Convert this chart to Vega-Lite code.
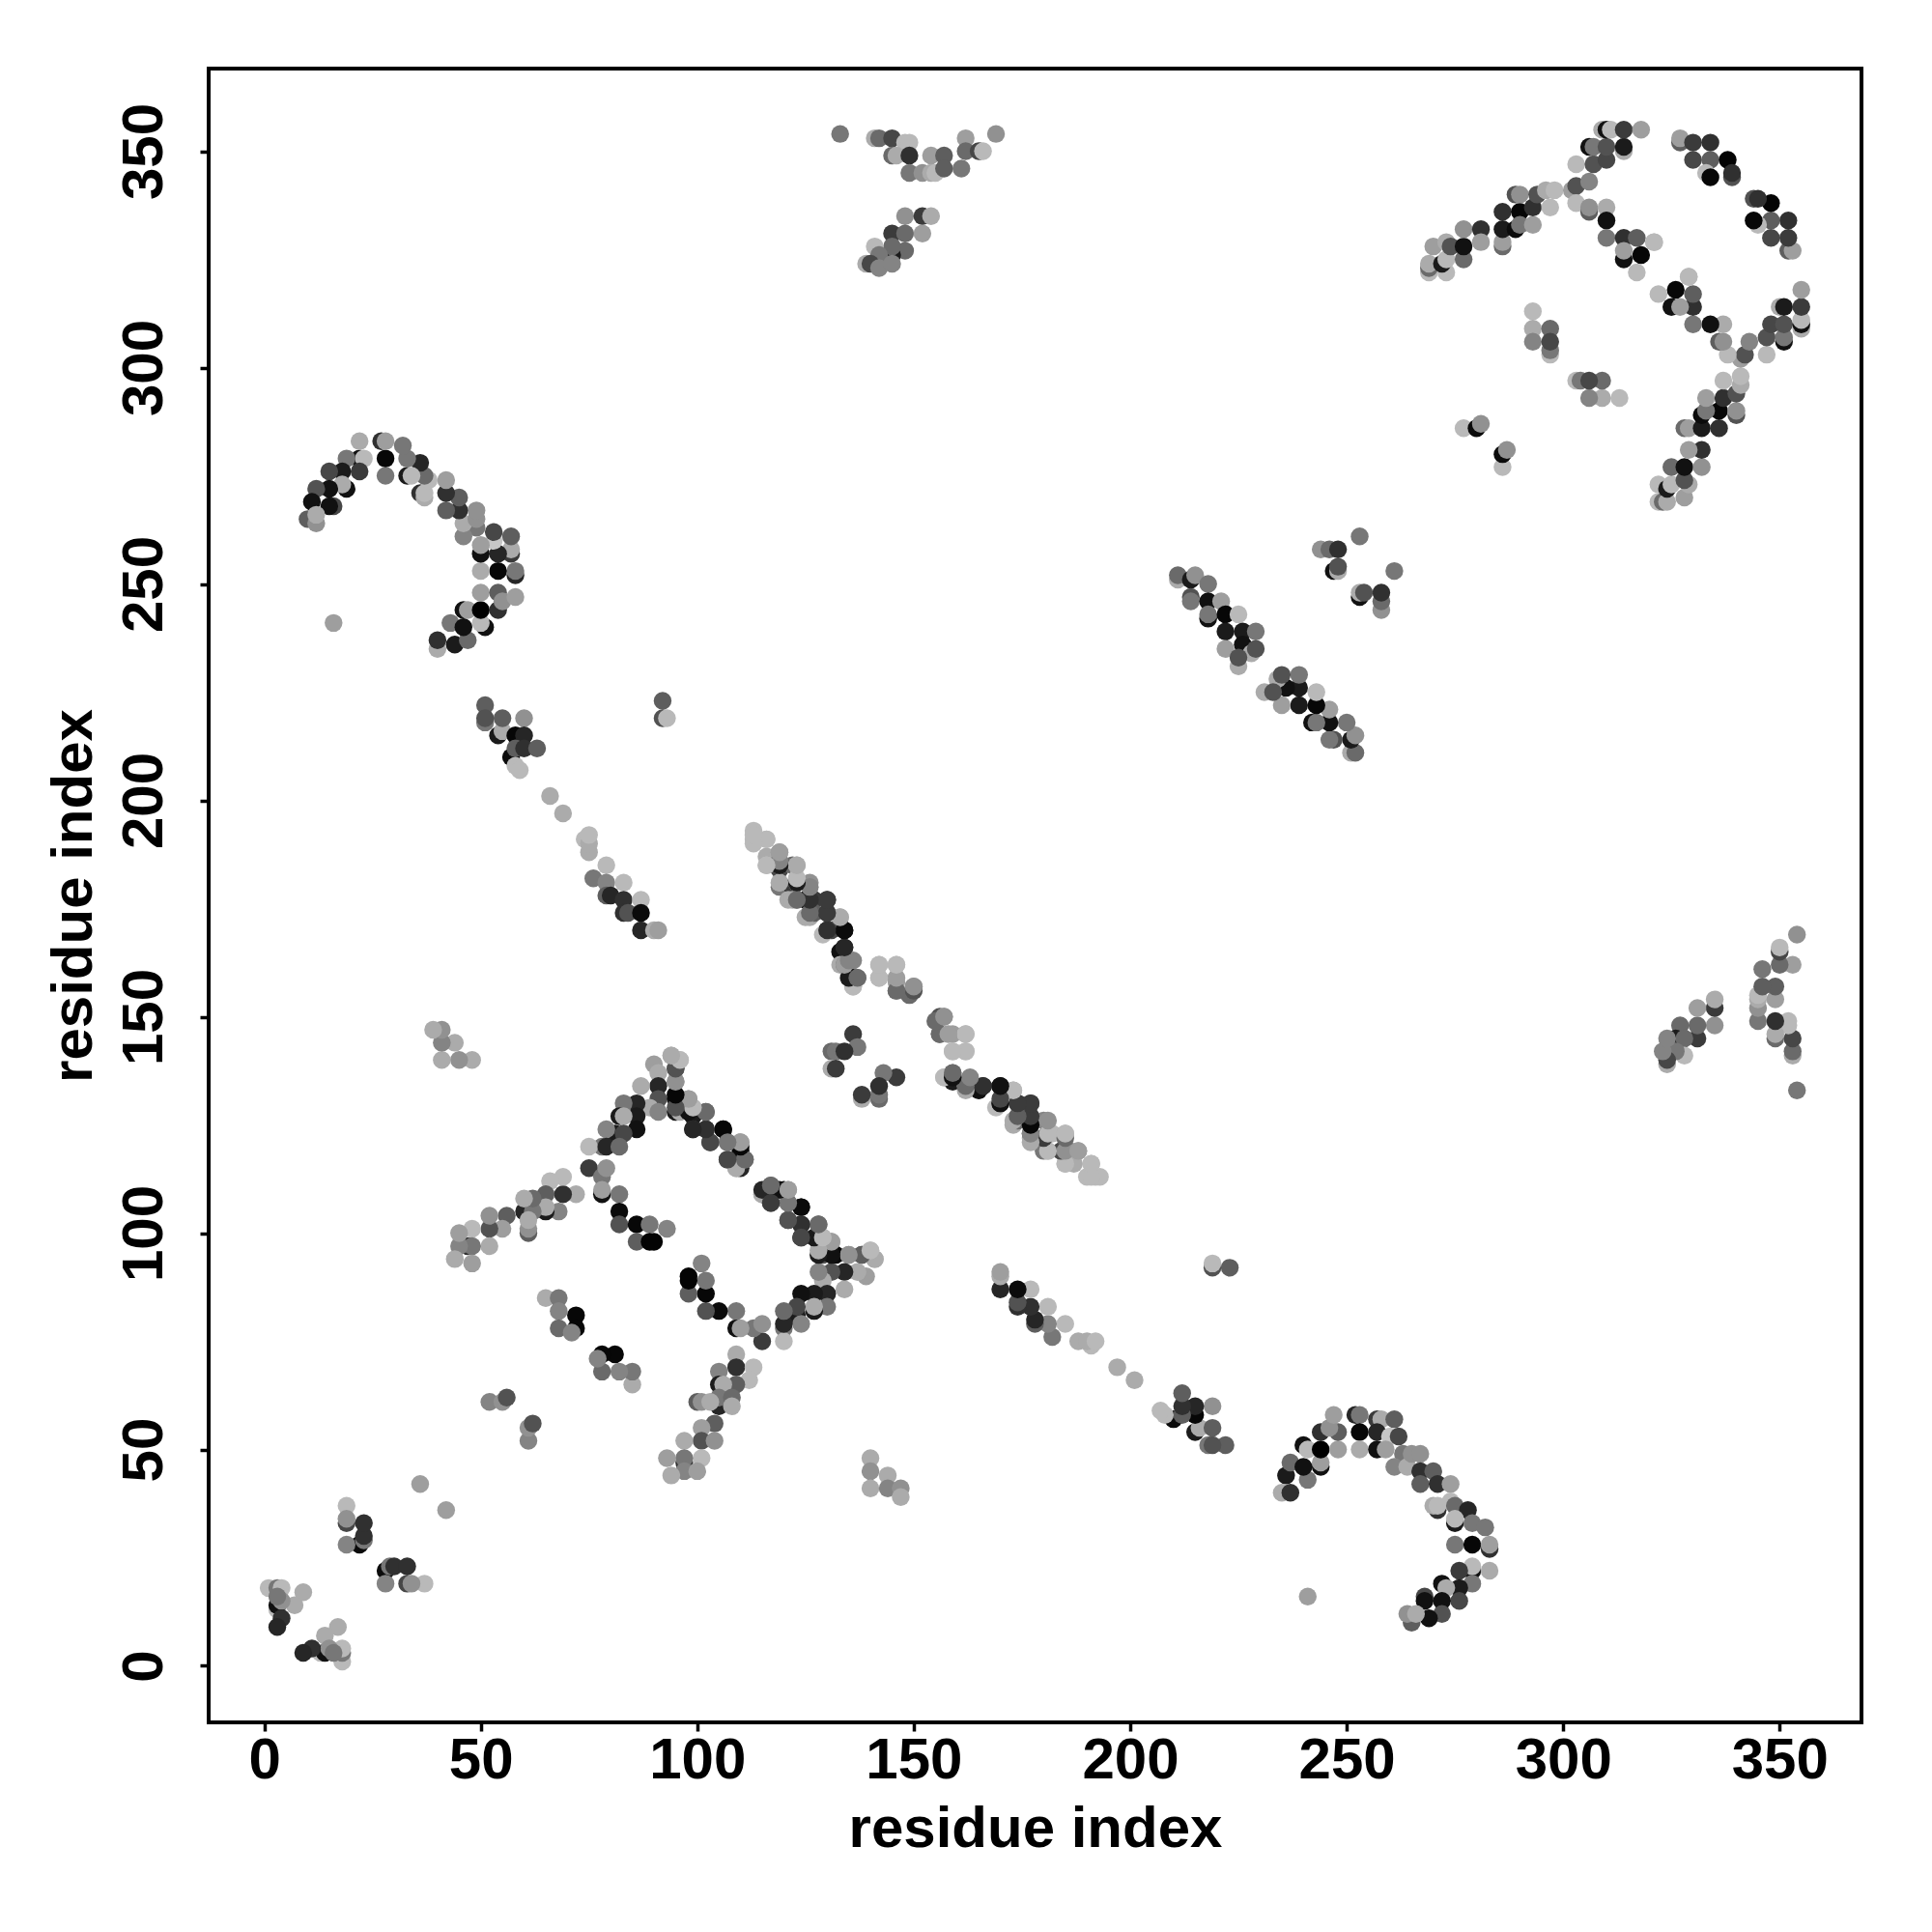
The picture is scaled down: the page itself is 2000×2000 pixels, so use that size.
{"$schema":"https://vega.github.io/schema/vega-lite/v6.json","autosize":"none","padding":{"left":216,"top":71,"right":73,"bottom":217},"width":1711,"height":1712,"background":"white","config":{"view":{"stroke":"black","strokeWidth":4,"fill":null},"font":"Liberation Sans"},"datasets":{"contacts":[
{"i":17,"j":9,"g":0.7},{"i":14,"j":7,"g":0.7},{"i":18,"j":1,"g":0.75},{"i":18,"j":3,"g":0.5},{"i":18,"j":4,"g":0.75},{"i":13,"j":3,"g":0.75},{"i":14,"j":3,"g":0.05},{"i":15,"j":4,"g":0.6},{"i":16,"j":3,"g":0.5},{"i":11,"j":4,"g":0.2},{"i":9,"j":3,"g":0.15},
{"i":19,"j":37,"g":0.75},{"i":19,"j":33,"g":0.3},{"i":19,"j":34,"g":0.6},{"i":22,"j":28,"g":0.03},{"i":23,"j":29,"g":0.5},{"i":23,"j":30,"g":0.2},{"i":23,"j":33,"g":0.2},{"i":19,"j":28,"g":0.55},{"i":36,"j":42,"g":0.65},
{"i":52,"j":61,"g":0.55},{"i":55,"j":61,"g":0.6},{"i":56,"j":62,"g":0.35},
{"i":235,"j":40,"g":0.7},{"i":237,"j":40,"g":0.2},{"i":236,"j":44,"g":0.1},{"i":241,"j":43,"g":0.5},{"i":237,"j":47,"g":0.45},{"i":240,"j":46,"g":0.05},{"i":244,"j":46,"g":0.05},{"i":244,"j":47,"g":0.65},{"i":240,"j":51,"g":0.05},{"i":241,"j":50,"g":0.75},{"i":244,"j":50,"g":0},{"i":244,"j":54,"g":0.2},{"i":248,"j":50,"g":0.65},{"i":248,"j":54,"g":0.4},{"i":246,"j":55,"g":0.6},{"i":247,"j":58,"g":0.65},{"i":252,"j":58,"g":0.15},{"i":253,"j":58,"g":0.5},{"i":253,"j":54,"g":0.02},{"i":253,"j":50,"g":0.7},{"i":257,"j":57,"g":0.25},{"i":258,"j":57,"g":0.7},{"i":261,"j":57,"g":0.4},{"i":257,"j":54,"g":0.15},{"i":260,"j":53,"g":0.8},{"i":262,"j":53,"g":0.3},{"i":257,"j":50,"g":0.05},{"i":259,"j":50,"g":0.65},{"i":263,"j":49,"g":0.5},{"i":261,"j":46,"g":0.55},{"i":264,"j":46,"g":0.7},{"i":265,"j":49,"g":0.6},{"i":267,"j":49,"g":0.6},{"i":267,"j":45,"g":0.2},{"i":267,"j":42,"g":0.4},{"i":270,"j":45,"g":0.4},{"i":271,"j":42,"g":0.2},{"i":274,"j":42,"g":0.65},{"i":271,"j":36,"g":0.2},{"i":270,"j":37,"g":0.7},{"i":271,"j":37,"g":0.75},{"i":274,"j":38,"g":0.75},{"i":275,"j":37,"g":0.45},{"i":278,"j":36,"g":0.15},{"i":275,"j":33,"g":0.1},{"i":275,"j":34,"g":0.75},{"i":279,"j":33,"g":0.5},{"i":282,"j":32,"g":0.5},{"i":275,"j":28,"g":0.5},{"i":279,"j":28,"g":0.02},{"i":283,"j":27,"g":0.2},{"i":283,"j":28,"g":0.65},{"i":279,"j":22,"g":0.05},{"i":279,"j":23,"g":0.75},{"i":283,"j":22,"g":0.7},{"i":279,"j":19,"g":0.5},{"i":276,"j":22,"g":0.25},{"i":276,"j":18,"g":0.1},{"i":272,"j":19,"g":0.05},{"i":273,"j":18,"g":0.7},{"i":276,"j":15,"g":0.3},{"i":272,"j":15,"g":0.05},{"i":272,"j":12,"g":0.35},{"i":268,"j":16,"g":0.3},{"i":268,"j":15,"g":0.05},{"i":269,"j":11,"g":0.05},{"i":265,"j":10,"g":0.4},{"i":264,"j":12,"g":0.6},{"i":266,"j":12,"g":0.7},{"i":241,"j":16,"g":0.65},
{"i":94,"j":141,"g":0.7},{"i":90,"j":139,"g":0.65},{"i":95,"j":138,"g":0.4},{"i":96,"j":140,"g":0.75},{"i":91,"j":137,"g":0.7},{"i":95,"j":135,"g":0.6},{"i":91,"j":134,"g":0.15},{"i":87,"j":134,"g":0.7},{"i":91,"j":131,"g":0.35},{"i":89,"j":129,"g":0.7},{"i":91,"j":128,"g":0.55},{"i":95,"j":131,"g":0.05},{"i":98,"j":131,"g":0.65},{"i":95,"j":128,"g":0.1},{"i":96,"j":128,"g":0.7},{"i":99,"j":127,"g":0.1},{"i":99,"j":129,"g":0.75},{"i":102,"j":128,"g":0.45},{"i":86,"j":130,"g":0.15},{"i":83,"j":130,"g":0.5},{"i":86,"j":127,"g":0.1},{"i":82,"j":127,"g":0.1},{"i":83,"j":127,"g":0.7},{"i":86,"j":124,"g":0.05},{"i":81,"j":123,"g":0.1},{"i":83,"j":123,"g":0.3},{"i":79,"j":124,"g":0.55},{"i":78,"j":120,"g":0.5},{"i":75,"j":120,"g":0.75},{"i":79,"j":120,"g":0.15},{"i":82,"j":120,"g":0.45},{"i":75,"j":115,"g":0.25},{"i":78,"j":113,"g":0.5},{"i":79,"j":115,"g":0.6},{"i":78,"j":109,"g":0.05},{"i":78,"j":110,"g":0.65},{"i":82,"j":109,"g":0.5},{"i":82,"j":105,"g":0.03},{"i":82,"j":102,"g":0.35},{"i":86,"j":102,"g":0.02},{"i":89,"j":102,"g":0.5},{"i":93,"j":101,"g":0.55},{"i":86,"j":98,"g":0.4},{"i":89,"j":98,"g":0.01},{"i":90,"j":98,"g":0.01},
{"i":106,"j":124,"g":0.03},{"i":102,"j":124,"g":0.2},{"i":99,"j":124,"g":0.3},{"i":103,"j":121,"g":0.35},{"i":107,"j":121,"g":0.5},{"i":110,"j":119,"g":0.05},{"i":110,"j":121,"g":0.65},{"i":109,"j":115,"g":0.7},{"i":110,"j":115,"g":0.15},{"i":111,"j":117,"g":0.45},{"i":107,"j":117,"g":0.25},
{"i":115,"j":109,"g":0.7},{"i":117,"j":111,"g":0.45},{"i":120,"j":110,"g":0.02},{"i":121,"j":110,"g":0.65},{"i":117,"j":107,"g":0.3},{"i":124,"j":106,"g":0.02},{"i":121,"j":107,"g":0.5},{"i":121,"j":103,"g":0.3},{"i":124,"j":102,"g":0.2},{"i":128,"j":102,"g":0.45},{"i":124,"j":99,"g":0.15},{"i":128,"j":98,"g":0.05},{"i":129,"j":99,"g":0.75},{"i":131,"j":98,"g":0.65},{"i":129,"j":95,"g":0.35},{"i":132,"j":95,"g":0.02},{"i":135,"j":95,"g":0.6},{"i":138,"j":95,"g":0.35},{"i":140,"j":96,"g":0.75},{"i":141,"j":94,"g":0.7},
{"i":65,"j":85,"g":0.7},{"i":68,"j":85,"g":0.5},{"i":68,"j":82,"g":0.55},{"i":72,"j":81,"g":0.02},{"i":72,"j":78,"g":0.02},{"i":68,"j":78,"g":0.45},{"i":71,"j":77,"g":0.55},
{"i":109,"j":72,"g":0.7},{"i":109,"j":69,"g":0.2},{"i":113,"j":69,"g":0.75},{"i":105,"j":68,"g":0.55},{"i":112,"j":66,"g":0.75},{"i":109,"j":65,"g":0.4},{"i":105,"j":65,"g":0.1},{"i":106,"j":65,"g":0.7},{"i":105,"j":60,"g":0.15},{"i":105,"j":62,"g":0.5},{"i":108,"j":62,"g":0.45},{"i":100,"j":61,"g":0.4},{"i":101,"j":61,"g":0.6},{"i":103,"j":61,"g":0.7},{"i":108,"j":60,"g":0.7},
{"i":104,"j":56,"g":0.4},{"i":101,"j":55,"g":0.65},{"i":101,"j":52,"g":0.35},{"i":104,"j":52,"g":0.6},{"i":97,"j":52,"g":0.7},{"i":101,"j":48,"g":0.75},{"i":97,"j":47,"g":0.2},{"i":97,"j":48,"g":0.5},{"i":93,"j":48,"g":0.65},{"i":97,"j":45,"g":0.55},{"i":100,"j":45,"g":0.65},{"i":94,"j":44,"g":0.7},
{"i":140,"j":48,"g":0.7},{"i":140,"j":45,"g":0.6},{"i":140,"j":41,"g":0.7},{"i":144,"j":44,"g":0.7},{"i":144,"j":41,"g":0.55},{"i":147,"j":41,"g":0.6},{"i":147,"j":39,"g":0.7},
{"i":136,"j":146,"g":0.25},{"i":137,"j":143,"g":0.5},{"i":131,"j":142,"g":0.45},{"i":132,"j":142,"g":0.5},{"i":134,"j":142,"g":0.2},{"i":131,"j":138,"g":0.7},{"i":132,"j":138,"g":0.25},
{"i":269,"j":322,"g":0.75},{"i":273,"j":322,"g":0.75},{"i":269,"j":323,"g":0.45},{"i":269,"j":324,"g":0.7},{"i":270,"j":328,"g":0.65},{"i":273,"j":329,"g":0.7},{"i":272,"j":324,"g":0.1},{"i":273,"j":325,"g":0.75},{"i":277,"j":325,"g":0.45},{"i":274,"j":328,"g":0.35},{"i":277,"j":328,"g":0.05},{"i":277,"j":332,"g":0.6},{"i":281,"j":332,"g":0.2},{"i":281,"j":329,"g":0.65},{"i":286,"j":328,"g":0.45},{"i":286,"j":329,"g":0.65},{"i":286,"j":332,"g":0.1},{"i":286,"j":336,"g":0.2},{"i":290,"j":336,"g":0.02},{"i":289,"j":332,"g":0.03},{"i":290,"j":333,"g":0.5},{"i":293,"j":333,"g":0.65},{"i":289,"j":340,"g":0.35},{"i":290,"j":340,"g":0.6},{"i":293,"j":337,"g":0.2},{"i":294,"j":340,"g":0.35},{"i":297,"j":337,"g":0.75},{"i":296,"j":341,"g":0.7},{"i":298,"j":341,"g":0.75},
{"i":303,"j":347,"g":0.75},{"i":302,"j":341,"g":0.65},{"i":303,"j":342,"g":0.35},{"i":306,"j":343,"g":0.55},{"i":303,"j":338,"g":0.75},{"i":306,"j":336,"g":0.4},{"i":306,"j":337,"g":0.6},{"i":310,"j":337,"g":0.7},{"i":310,"j":334,"g":0.05},{"i":310,"j":330,"g":0.5},{"i":314,"j":330,"g":0.2},{"i":317,"j":330,"g":0.4},{"i":321,"j":329,"g":0.75},{"i":314,"j":325,"g":0.05},{"i":314,"j":327,"g":0.65},{"i":318,"j":326,"g":0.02},{"i":317,"j":322,"g":0.75},{"i":307,"j":347,"g":0.35},{"i":310,"j":348,"g":0.3},{"i":306,"j":351,"g":0.05},{"i":307,"j":351,"g":0.5},{"i":310,"j":351,"g":0.35},{"i":314,"j":350,"g":0.7},{"i":314,"j":351,"g":0.1},{"i":309,"j":355,"g":0.7},{"i":310,"j":355,"g":0.05},{"i":311,"j":355,"g":0.75},{"i":314,"j":355,"g":0.25},{"i":318,"j":355,"g":0.65},
{"i":327,"j":352,"g":0.4},{"i":327,"j":353,"g":0.65},{"i":330,"j":352,"g":0.25},{"i":334,"j":352,"g":0.2},{"i":330,"j":348,"g":0.3},{"i":334,"j":348,"g":0.4},{"i":338,"j":348,"g":0.01},{"i":333,"j":345,"g":0.75},{"i":334,"j":344,"g":0.02},{"i":339,"j":344,"g":0.35},{"i":339,"j":345,"g":0.2},
{"i":329,"j":321,"g":0.75},
{"i":293,"j":313,"g":0.75},{"i":293,"j":309,"g":0.7},{"i":297,"j":309,"g":0.45},{"i":293,"j":306,"g":0.55},{"i":297,"j":303,"g":0.75},{"i":297,"j":304,"g":0.5},{"i":297,"j":306,"g":0.3},
{"i":277,"j":286,"g":0.75},{"i":280,"j":286,"g":0.03},{"i":281,"j":287,"g":0.6},
{"i":113,"j":193,"g":0.75},{"i":113,"j":191,"g":0.75},{"i":116,"j":187,"g":0.7},{"i":116,"j":185,"g":0.75},{"i":116,"j":191,"g":0.75},{"i":119,"j":184,"g":0.3},{"i":119,"j":185,"g":0.6},{"i":119,"j":188,"g":0.65},{"i":122,"j":185,"g":0.45},{"i":123,"j":185,"g":0.75},{"i":119,"j":180,"g":0.5},{"i":119,"j":181,"g":0.75},{"i":122,"j":180,"g":0.25},{"i":123,"j":181,"g":0.75},{"i":126,"j":181,"g":0.6},{"i":121,"j":177,"g":0.7},{"i":123,"j":177,"g":0.55},{"i":125,"j":177,"g":0.02},{"i":127,"j":177,"g":0.25},{"i":130,"j":177,"g":0.25},{"i":126,"j":173,"g":0.7},{"i":127,"j":174,"g":0.4},{"i":130,"j":174,"g":0.25},{"i":133,"j":173,"g":0.75},{"i":130,"j":170,"g":0.05},{"i":131,"j":170,"g":0.3},{"i":134,"j":170,"g":0.05},{"i":133,"j":165,"g":0.05},{"i":134,"j":166,"g":0.2},{"i":133,"j":162,"g":0.7},{"i":134,"j":162,"g":0.45},{"i":136,"j":163,"g":0.55},{"i":136,"j":157,"g":0.75},{"i":136,"j":159,"g":0.05},{"i":137,"j":159,"g":0.45},
{"i":142,"j":162,"g":0.75},{"i":146,"j":162,"g":0.75},{"i":142,"j":159,"g":0.75},{"i":146,"j":156,"g":0.45},{"i":146,"j":158,"g":0.65},{"i":149,"j":155,"g":0.45},{"i":150,"j":157,"g":0.6},
{"i":156,"j":150,"g":0.35},{"i":157,"j":150,"g":0.6},{"i":156,"j":146,"g":0.45},{"i":159,"j":146,"g":0.65},{"i":162,"j":146,"g":0.75},{"i":159,"j":142,"g":0.75},{"i":162,"j":142,"g":0.75},
{"i":157,"j":136,"g":0.75},{"i":159,"j":135,"g":0.1},{"i":159,"j":137,"g":0.45},{"i":162,"j":134,"g":0.65},{"i":163,"j":135,"g":0.55},{"i":166,"j":134,"g":0.15},{"i":170,"j":134,"g":0.03},{"i":173,"j":133,"g":0.7},{"i":169,"j":129,"g":0.75},{"i":170,"j":130,"g":0.2},{"i":174,"j":130,"g":0.25},{"i":177,"j":130,"g":0.25},{"i":173,"j":125,"g":0.7},{"i":174,"j":126,"g":0.45},{"i":177,"j":126,"g":0.2},{"i":180,"j":126,"g":0.55},{"i":177,"j":122,"g":0.7},{"i":177,"j":123,"g":0.45},{"i":181,"j":123,"g":0.1},{"i":182,"j":123,"g":0.75},{"i":185,"j":123,"g":0.7},{"i":181,"j":119,"g":0.7},{"i":185,"j":119,"g":0.1},{"i":186,"j":119,"g":0.55},{"i":188,"j":119,"g":0.65},{"i":185,"j":116,"g":0.75},{"i":191,"j":116,"g":0.75},{"i":190,"j":113,"g":0.75},{"i":192,"j":113,"g":0.75},
{"i":133,"j":354,"g":0.5},{"i":141,"j":353,"g":0.7},{"i":142,"j":353,"g":0.45},{"i":145,"j":353,"g":0.3},{"i":148,"j":352,"g":0.75},{"i":149,"j":352,"g":0.75},{"i":145,"j":349,"g":0.45},{"i":146,"j":349,"g":0.7},{"i":149,"j":349,"g":0.2},{"i":154,"j":349,"g":0.65},{"i":157,"j":349,"g":0.4},{"i":162,"j":353,"g":0.65},{"i":162,"j":350,"g":0.45},{"i":165,"j":350,"g":0.3},{"i":166,"j":350,"g":0.75},{"i":169,"j":354,"g":0.6},{"i":149,"j":345,"g":0.5},{"i":152,"j":345,"g":0.6},{"i":154,"j":345,"g":0.7},{"i":155,"j":345,"g":0.75},{"i":157,"j":346,"g":0.4},{"i":161,"j":346,"g":0.5},
{"i":148,"j":335,"g":0.6},{"i":152,"j":335,"g":0.25},{"i":154,"j":335,"g":0.7},{"i":145,"j":331,"g":0.25},{"i":148,"j":331,"g":0.45},{"i":152,"j":331,"g":0.65},{"i":148,"j":327,"g":0.45},{"i":145,"j":326,"g":0.1},{"i":145,"j":328,"g":0.45},{"i":141,"j":328,"g":0.75},{"i":142,"j":326,"g":0.5},{"i":139,"j":324,"g":0.7},{"i":140,"j":324,"g":0.3},{"i":142,"j":323,"g":0.55},{"i":145,"j":324,"g":0.55},
{"i":211,"j":251,"g":0.7},{"i":211,"j":252,"g":0.45},{"i":214,"j":251,"g":0.1},{"i":215,"j":252,"g":0.6},{"i":214,"j":247,"g":0.35},{"i":214,"j":246,"g":0.5},{"i":218,"j":250,"g":0.5},{"i":218,"j":246,"g":0.05},{"i":221,"j":246,"g":0.65},{"i":218,"j":242,"g":0.05},{"i":218,"j":243,"g":0.5},{"i":222,"j":243,"g":0.02},{"i":225,"j":243,"g":0.75},{"i":222,"j":239,"g":0.1},{"i":226,"j":239,"g":0.1},{"i":229,"j":239,"g":0.5},{"i":222,"j":235,"g":0.65},{"i":226,"j":236,"g":0.05},{"i":228,"j":234,"g":0.7},{"i":229,"j":235,"g":0.35},{"i":225,"j":231,"g":0.7},{"i":225,"j":233,"g":0.35},
{"i":253,"j":261,"g":0.5},{"i":244,"j":258,"g":0.6},{"i":246,"j":258,"g":0.45},{"i":248,"j":258,"g":0.2},{"i":247,"j":253,"g":0.05},{"i":248,"j":253,"g":0.7},{"i":248,"j":254,"g":0.35},
{"i":51,"j":222,"g":0.4},{"i":51,"j":218,"g":0.5},{"i":51,"j":219,"g":0.35},{"i":54,"j":215,"g":0.1},{"i":55,"j":216,"g":0.7},{"i":55,"j":219,"g":0.4},{"i":60,"j":219,"g":0.6},{"i":58,"j":215,"g":0.02},{"i":60,"j":215,"g":0.15},{"i":57,"j":210,"g":0.03},{"i":58,"j":212,"g":0.4},{"i":60,"j":212,"g":0.2},{"i":63,"j":212,"g":0.4},{"i":58,"j":208,"g":0.75},{"i":59,"j":207,"g":0.75},
{"i":66,"j":201,"g":0.7},{"i":69,"j":197,"g":0.7},{"i":74,"j":191,"g":0.75},{"i":75,"j":188,"g":0.7},{"i":75,"j":190,"g":0.7},{"i":75,"j":192,"g":0.75},{"i":79,"j":185,"g":0.75},{"i":76,"j":182,"g":0.5},{"i":79,"j":181,"g":0.55},{"i":83,"j":181,"g":0.75},{"i":79,"j":178,"g":0.4},{"i":80,"j":178,"g":0.15},{"i":83,"j":177,"g":0.2},{"i":87,"j":177,"g":0.75},{"i":83,"j":174,"g":0.2},{"i":84,"j":174,"g":0.35},{"i":87,"j":174,"g":0.03},{"i":87,"j":170,"g":0.15},{"i":90,"j":170,"g":0.7},{"i":91,"j":170,"g":0.65},
{"i":92,"j":223,"g":0.4},{"i":92,"j":219,"g":0.35},{"i":93,"j":219,"g":0.75}
]},
"layer":[
{"data":{"name":"contacts"},"mark":{"type":"circle","size":340,"opacity":1},"encoding":{
"x":{"field":"i","type":"quantitative","scale":{"domain":[-12.85,368.9],"nice":false,"zero":false},"axis":{"values":[0,50,100,150,200,250,300,350],"title":"residue index","titleFontSize":60,"titleFontWeight":"bold","titleFont":"Liberation Sans","titleColor":"black","titlePadding":12,"labelFontSize":60,"labelFontWeight":"bold","labelFont":"Liberation Sans","labelColor":"black","tickColor":"black","tickSize":9,"tickWidth":3.5,"labelPadding":1,"domain":false,"grid":false}},
"y":{"field":"j","type":"quantitative","scale":{"domain":[-13.06,369.1],"nice":false,"zero":false},"axis":{"values":[0,50,100,150,200,250,300,350],"title":"residue index","titleFontSize":60,"titleFontWeight":"bold","titleFont":"Liberation Sans","titleColor":"black","titlePadding":12,"labelFontSize":60,"labelFontWeight":"bold","labelFont":"Liberation Sans","labelColor":"black","labelAngle":-90,"labelAlign":"center","labelBaseline":"bottom","tickColor":"black","tickSize":9,"tickWidth":3.5,"labelPadding":27,"domain":false,"grid":false}},
"color":{"field":"g","type":"quantitative","scale":{"domain":[0,1],"range":["#000000","#ffffff"]},"legend":null}}},
{"data":{"name":"contacts"},"mark":{"type":"circle","size":340,"opacity":1},"encoding":{
"x":{"field":"j","type":"quantitative"},
"y":{"field":"i","type":"quantitative"},
"color":{"field":"g","type":"quantitative"}}}
]}
